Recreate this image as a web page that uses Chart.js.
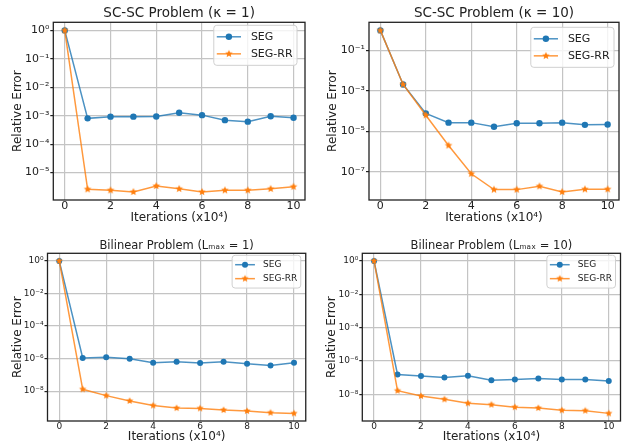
<!DOCTYPE html>
<html>
<head>
<meta charset="utf-8">
<script src="https://cdn.jsdelivr.net/npm/chart.js@4.4.1/dist/chart.umd.min.js"></script>
<style>
  html, body { margin: 0; padding: 0; background: #fff; }
  body { width: 623px; height: 444px; position: relative; overflow: hidden; }
  .panel { position: absolute; }
</style>
</head>
<body>
<div class="panel" style="left:0;top:0;width:311px;height:232px"><canvas id="c1"></canvas></div>
<div class="panel" style="left:311px;top:0;width:312px;height:232px"><canvas id="c2"></canvas></div>
<div class="panel" style="left:0;top:232px;width:311px;height:212px"><canvas id="c3"></canvas></div>
<div class="panel" style="left:311px;top:232px;width:312px;height:212px"><canvas id="c4"></canvas></div>
<script>
// data
const iterations = [0, 1, 2, 3, 4, 5, 6, 7, 8, 9, 10];

const seg1   = [1, 8.1e-4, 9.3e-4, 9.3e-4, 9.4e-4, 1.27e-3, 1.05e-3, 7.0e-4, 6.2e-4, 9.6e-4, 8.5e-4];
const segRR1 = [1, 2.6e-6, 2.4e-6, 2.1e-6, 3.4e-6, 2.7e-6, 2.1e-6, 2.4e-6, 2.4e-6, 2.7e-6, 3.2e-6];

const seg2   = [1, 2.1e-3, 7.7e-5, 2.7e-5, 2.7e-5, 1.7e-5, 2.5e-5, 2.5e-5, 2.7e-5, 2.1e-5, 2.2e-5];
const segRR2 = [1, 2.1e-3, 6.3e-5, 2.0e-6, 7.9e-8, 1.3e-8, 1.3e-8, 1.9e-8, 1.0e-8, 1.35e-8, 1.35e-8];

const seg3   = [1, 1.1e-6, 1.2e-6, 9.8e-7, 5.5e-7, 6.3e-7, 5.3e-7, 6.3e-7, 4.8e-7, 3.8e-7, 5.5e-7];
const segRR3 = [1, 1.3e-8, 5.3e-9, 2.5e-9, 1.3e-9, 9.1e-10, 8.7e-10, 6.9e-10, 6.0e-10, 4.7e-10, 4.3e-10];

const seg4   = [1, 1.56e-7, 1.24e-7, 1.03e-7, 1.3e-7, 7.1e-8, 7.8e-8, 9.0e-8, 7.8e-8, 7.8e-8, 6.2e-8];
const segRR4 = [1, 1.65e-8, 7.9e-9, 5.0e-9, 2.9e-9, 2.4e-9, 1.7e-9, 1.5e-9, 1.1e-9, 1.05e-9, 7.2e-10];

const xTicks = [0, 2, 4, 6, 8, 10];
const xTickLabels = ['0', '2', '4', '6', '8', '10'];

const yTicks1 = [1, 1e-1, 1e-2, 1e-3, 1e-4, 1e-5];
const yLabels1 = ['10⁰', '10⁻¹', '10⁻²', '10⁻³', '10⁻⁴', '10⁻⁵'];
const yTicks2 = [1e-1, 1e-3, 1e-5, 1e-7];
const yLabels2 = ['10⁻¹', '10⁻³', '10⁻⁵', '10⁻⁷'];
const yTicks34 = [1, 1e-2, 1e-4, 1e-6, 1e-8];
const yLabels34 = ['10⁰', '10⁻²', '10⁻⁴', '10⁻⁶', '10⁻⁸'];

const titles = [
  'SC-SC Problem (κ = 1)',
  'SC-SC Problem (κ = 10)',
  'Bilinear Problem (Lₘₐₓ = 1)',
  'Bilinear Problem (Lₘₐₓ = 10)'
];
const seriesNames = ['SEG', 'SEG-RR'];
const xTitle = 'Iterations (x10⁴)';
const yTitle = 'Relative Error';

const FONT = 'DejaVu Sans';
const BLUE = '#1f77b4';
const ORANGE = '#ff7f0e';
const INK = '#222222';
const GRID = '#c4c4c4';

Chart.defaults.font.family = FONT;

function makeStar(r, color) {
  const size = Math.ceil(r * 2) + 2;
  const c = document.createElement('canvas');
  c.width = size;
  c.height = size;
  const g = c.getContext('2d');
  g.fillStyle = color;
  g.beginPath();
  for (let i = 0; i < 10; i++) {
    const rad = i % 2 === 0 ? r : r * 0.45;
    const a = -Math.PI / 2 + i * Math.PI / 5;
    const px = size / 2 + rad * Math.cos(a);
    const py = size / 2 + rad * Math.sin(a);
    if (i === 0) g.moveTo(px, py); else g.lineTo(px, py);
  }
  g.closePath();
  g.fill();
  return c;
}

// black box all round the plot area
const framePlugin = {
  id: 'frame',
  afterDatasetsDraw(chart) {
    const { ctx, chartArea: a } = chart;
    ctx.save();
    ctx.strokeStyle = INK;
    ctx.lineWidth = 1.3;
    ctx.strokeRect(a.left, a.top, a.right - a.left, a.bottom - a.top);
    ctx.restore();
  }
};

// matplotlib style legend inside the upper right corner
const boxLegend = {
  id: 'boxLegend',
  afterDraw(chart, args, opts) {
    const { ctx, chartArea: a } = chart;
    const fs = opts.fontSize;
    const items = chart.data.datasets;
    ctx.save();
    ctx.font = fs + 'px "' + FONT + '"';
    const textW = Math.max(...items.map(d => ctx.measureText(d.label).width));
    const padX = 3, handle = 2.2 * fs, gap = 0.9 * fs, padR = 0.4 * fs;
    const rowH = 1.55 * fs, padY = 0.27 * fs;
    const w = padX + handle + gap + textW + padR;
    const h = padY * 2 + rowH * items.length;
    const x = a.right - opts.offsetX - w;
    const y = a.top + opts.offsetY;
    const r = 3;
    ctx.beginPath();
    ctx.moveTo(x + r, y);
    ctx.arcTo(x + w, y, x + w, y + h, r);
    ctx.arcTo(x + w, y + h, x, y + h, r);
    ctx.arcTo(x, y + h, x, y, r);
    ctx.arcTo(x, y, x + w, y, r);
    ctx.closePath();
    ctx.fillStyle = 'rgba(255,255,255,0.8)';
    ctx.fill();
    ctx.strokeStyle = '#d0d0d0';
    ctx.lineWidth = 1;
    ctx.stroke();
    items.forEach((d, i) => {
      const cy = y + padY + rowH * (i + 0.5);
      const x0 = x + padX;
      ctx.strokeStyle = d.borderColor;
      ctx.lineWidth = d.borderWidth;
      ctx.beginPath();
      ctx.moveTo(x0, cy);
      ctx.lineTo(x0 + handle, cy);
      ctx.stroke();
      const cx = x0 + handle / 2;
      if (d.pointStyle instanceof HTMLCanvasElement) {
        ctx.drawImage(d.pointStyle, cx - d.pointStyle.width / 2, cy - d.pointStyle.height / 2);
      } else {
        ctx.fillStyle = d.pointBackgroundColor;
        ctx.beginPath();
        ctx.arc(cx, cy, d.pointRadius, 0, Math.PI * 2);
        ctx.fill();
      }
      ctx.fillStyle = INK;
      ctx.textBaseline = 'middle';
      ctx.textAlign = 'left';
      ctx.fillText(d.label, x0 + handle + gap, cy);
    });
    ctx.restore();
  }
};

function logLimits(values) {
  const lo = Math.log10(Math.min(...values));
  const hi = Math.log10(Math.max(...values));
  const m = 0.05 * (hi - lo);
  return { min: Math.pow(10, lo - m), max: Math.pow(10, hi + m) };
}

function makeChart(id, p) {
  const xm = 0.05 * (Math.max(...iterations) - Math.min(...iterations));
  const yl = logLimits(p.seg.concat(p.segRR));
  const star = makeStar(p.starR, ORANGE);
  return new Chart(document.getElementById(id), {
    type: 'line',
    data: {
      datasets: [
        {
          label: seriesNames[0],
          data: iterations.map((it, i) => ({ x: it, y: p.seg[i] })),
          borderColor: 'rgba(31,119,180,0.8)',
          borderWidth: 1.5,
          pointStyle: 'circle',
          pointRadius: p.dotR,
          pointBackgroundColor: BLUE,
          pointBorderWidth: 0,
          order: 1
        },
        {
          label: seriesNames[1],
          data: iterations.map((it, i) => ({ x: it, y: p.segRR[i] })),
          borderColor: 'rgba(255,127,14,0.8)',
          borderWidth: 1.5,
          pointStyle: star,
          pointRadius: p.starR,
          pointBackgroundColor: ORANGE,
          pointBorderWidth: 0,
          order: 0
        }
      ]
    },
    options: {
      responsive: true,
      maintainAspectRatio: false,
      animation: false,
      layout: { autoPadding: false, padding: { left: 0, right: p.padR, top: 0, bottom: 0 } },
      plugins: {
        legend: { display: false },
        tooltip: { enabled: false },
        title: {
          display: true,
          fullSize: false,
          text: p.title,
          color: INK,
          font: { family: FONT, size: p.titleSize, weight: 'normal' },
          padding: { top: p.titlePadTop, bottom: p.titlePadBottom }
        },
        boxLegend: { fontSize: p.legendSize, offsetX: p.legendX, offsetY: p.legendY }
      },
      scales: {
        x: {
          type: 'linear',
          bounds: 'data',
          min: Math.min(...iterations) - xm,
          max: Math.max(...iterations) + xm,
          afterBuildTicks: ax => { ax.ticks = xTicks.map(v => ({ value: v })); },
          afterFit: ax => { ax.height = p.xBoxH; },
          ticks: {
            callback: (v, i) => xTickLabels[i],
            color: INK,
            font: { family: FONT, size: p.tickSize },
            padding: 0,
            autoSkip: false,
            maxRotation: 0
          },
          grid: { color: GRID, lineWidth: 1.2, drawTicks: false },
          border: { display: false },
          title: {
            display: true,
            text: xTitle,
            color: INK,
            font: { family: FONT, size: p.labelSize },
            padding: { top: 0, bottom: p.xTitlePad }
          }
        },
        y: {
          type: 'logarithmic',
          bounds: 'data',
          min: yl.min,
          max: yl.max,
          afterBuildTicks: ax => { ax.ticks = p.yTicks.map(v => ({ value: v })); },
          afterFit: ax => { ax.width = p.yBoxW; },
          ticks: {
            callback: (v, i) => p.yLabels[i],
            color: INK,
            font: { family: FONT, size: p.tickSize },
            padding: 1,
            autoSkip: false
          },
          grid: { color: GRID, lineWidth: 1.2, drawTicks: true, tickLength: 3, tickColor: INK },
          border: { display: false },
          title: {
            display: true,
            text: yTitle,
            color: INK,
            font: { family: FONT, size: p.labelSize },
            padding: { top: p.yTitlePad, bottom: 0 }
          }
        }
      }
    },
    plugins: [framePlugin, boxLegend]
  });
}

const topPanel = {
  titleSize: 13.5, titlePadTop: 5.5, titlePadBottom: 0.6,
  tickSize: 11, labelSize: 12, legendSize: 11, legendX: 8, legendY: 3,
  xBoxH: 32, xTitlePad: 6.8, dotR: 3.2, starR: 4
};
const bottomPanel = {
  titleSize: 11.5, titlePadTop: 7.4, titlePadBottom: 0.1,
  tickSize: 9, labelSize: 12, legendSize: 9, legendX: 5, legendY: 2,
  xBoxH: 23, xTitlePad: 0, dotR: 3, starR: 3.8
};

makeChart('c1', Object.assign({}, topPanel, {
  title: titles[0], seg: seg1, segRR: segRR1, yTicks: yTicks1, yLabels: yLabels1,
  yBoxW: 53.3, yTitlePad: 10.5, padR: 6
}));
makeChart('c2', Object.assign({}, topPanel, {
  title: titles[1], seg: seg2, segRR: segRR2, yTicks: yTicks2, yLabels: yLabels2,
  yBoxW: 58, yTitlePad: 14.5, padR: 4, legendX: 5, legendY: 5
}));
makeChart('c3', Object.assign({}, bottomPanel, {
  title: titles[2], seg: seg3, segRR: segRR3, yTicks: yTicks34, yLabels: yLabels34,
  yBoxW: 47.5, yTitlePad: 10.5, padR: 5.25
}));
makeChart('c4', Object.assign({}, bottomPanel, {
  title: titles[3], seg: seg4, segRR: segRR4, yTicks: yTicks34, yLabels: yLabels34,
  yBoxW: 51.3, yTitlePad: 13.8, padR: 2.5
}));
</script>
</body>
</html>
